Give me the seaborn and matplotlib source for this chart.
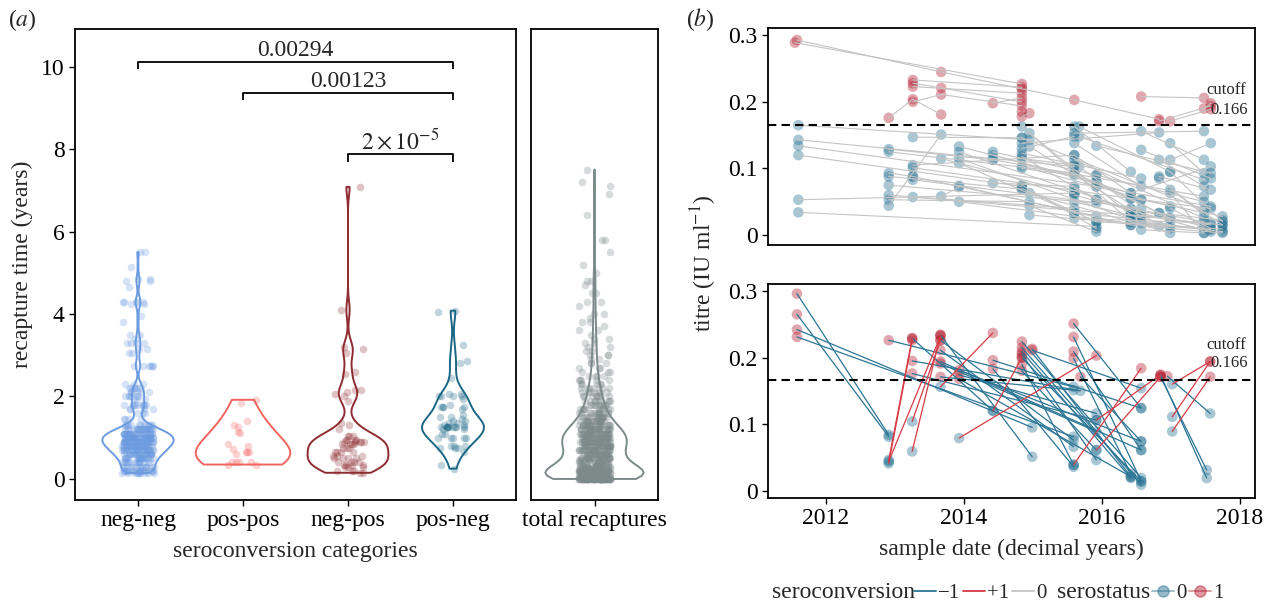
import numpy as np
import pandas as pd
import matplotlib
matplotlib.use("Agg")
import matplotlib.pyplot as plt
from matplotlib.lines import Line2D
import seaborn as sns

# ---------------- panel (a) data: recapture times (years) ----------------
categories = ["neg-neg", "pos-pos", "neg-pos", "pos-neg"]
neg_neg_vals = [5.5, 5.15, 4.85, 4.8, 4.65, 4.3, 4.25, 3.95, 3.8, 3.5, 3.4, 3.3, 3.15, 3.05,
                2.75, 2.3, 2.2, 2.1, 2.0, 1.95, 1.8, 1.7, 1.6, 1.45, 1.3, 1.2, 1.1, 1.0,
                0.9, 0.8, 0.7, 0.6, 0.5, 0.4, 0.3, 0.2, 0.15]
neg_neg_counts = [2, 1, 2, 2, 1, 5, 2, 1, 1, 2, 1, 4, 2, 2,
                  6, 3, 6, 5, 6, 3, 10, 4, 3, 4, 12, 22, 30, 36,
                  34, 30, 26, 22, 18, 15, 14, 16, 10]
pos_pos_vals = [1.92, 1.85, 1.4, 1.32, 1.25, 1.15, 1.12, 0.85, 0.8, 0.72, 0.65, 0.65,
                0.65, 0.6, 0.42, 0.4, 0.4, 0.4, 0.35, 0.35]
neg_pos_vals = [7.08, 4.1, 3.2, 3.15, 3.05, 2.6, 2.55, 2.15, 2.1, 2.05, 2.0, 1.9, 1.35, 1.3,
                1.2, 1.05, 0.95, 0.9, 0.85, 0.75, 0.65, 0.55, 0.5, 0.4, 0.35, 0.3, 0.2, 0.15]
neg_pos_counts = [1, 1, 1, 1, 1, 1, 1, 2, 1, 1, 1, 1, 1, 1,
                  1, 3, 4, 5, 4, 3, 4, 3, 4, 4, 4, 3, 3, 2]
pos_neg_vals = [4.08, 4.05, 3.25, 2.85, 2.8, 2.45, 2.05, 2.0, 1.95, 1.8, 1.75, 1.7, 1.55,
                1.5, 1.45, 1.4, 1.35, 1.3, 1.25, 1.2, 1.1, 1.0, 0.8, 0.75, 0.65, 0.35, 0.25]
pos_neg_counts = [1, 1, 1, 1, 1, 1, 2, 4, 1, 1, 4, 1, 1,
                  2, 1, 2, 2, 2, 10, 2, 2, 5, 3, 3, 1, 1, 1]
total_label = "total recaptures"
total_vals = [0.0, 0.05, 0.1, 0.15, 0.2, 0.25, 0.3, 0.35, 0.4, 0.45, 0.5, 0.6, 0.7, 0.8,
              0.9, 1.0, 1.1, 1.2, 1.3, 1.4, 1.5, 1.6, 1.7, 1.8, 1.9, 2.0, 2.1, 2.2, 2.3,
              2.4, 2.5, 2.6, 2.7, 2.8, 2.9, 3.0, 3.1, 3.2, 3.3, 3.4, 3.5, 3.6, 3.7, 3.8,
              3.9, 4.0, 4.2, 4.3, 4.5, 4.7, 4.8, 5.0, 5.2, 5.5, 5.8, 6.4, 6.9, 7.1, 7.2, 7.5]
total_counts = [70, 42, 35, 31, 28, 24, 20, 16, 14, 13, 22, 28, 30, 33,
                35, 36, 34, 29, 22, 18, 16, 13, 11, 10, 9, 8, 7, 6, 5,
                5, 4, 3, 3, 3, 2, 3, 2, 2, 2, 2, 1, 2, 1, 2,
                1, 2, 1, 2, 2, 1, 2, 1, 1, 1, 2, 1, 1, 1, 1, 1]

bracket_from = [0, 1, 2]
bracket_to = [3, 3, 3]
bracket_y = [10.12, 9.37, 7.88]
bracket_text = ["0.00294", "0.00123", r"$2\times10^{-5}$"]

# ---------------- panel (b) data: titres ----------------
cutoff = 0.166
# top: individuals without seroconversion (dates, titres per individual)
top_dates = [
    [2011.58, 2013.67, 2015.6, 2016.83], [2011.55, 2014.84], [2012.91, 2013.26, 2013.67],
    [2013.26, 2013.67, 2014.84], [2013.26, 2013.67, 2014.84], [2013.26, 2014.84],
    [2013.26, 2014.84], [2014.42, 2014.84], [2014.84, 2014.95], [2016.57, 2017.48],
    [2016.83, 2017.58], [2016.99, 2017.58], [2017.48, 2017.58], [2014.84], [2014.84],
    [2011.6, 2014.95], [2011.6, 2015.6], [2011.6, 2015.92], [2011.6, 2014.84],
    [2011.6, 2015.6], [2011.6, 2015.92], [2012.91, 2014.42], [2012.91, 2015.6],
    [2012.91, 2013.67], [2012.91, 2014.84], [2012.91, 2015.92], [2012.91, 2015.6],
    [2012.91, 2014.95], [2012.91, 2013.26], [2013.26, 2014.84], [2013.26, 2015.6],
    [2013.26, 2016.42], [2013.26, 2015.92], [2013.26, 2016.57], [2013.26, 2016.99],
    [2013.67, 2015.6], [2013.67, 2013.93], [2013.93, 2015.92], [2013.93, 2016.42],
    [2013.93, 2016.57], [2013.93, 2015.6], [2013.93, 2016.99], [2013.93, 2016.42],
    [2014.42, 2015.92], [2014.42, 2016.42], [2014.42, 2017.48], [2014.42, 2015.6],
    [2014.84, 2016.83], [2014.84, 2015.6], [2014.84, 2016.57], [2014.84, 2015.92],
    [2014.84, 2016.99], [2014.84, 2016.42], [2014.84, 2017.48], [2014.84, 2015.92],
    [2015.6, 2017.48], [2014.95, 2016.42], [2014.95, 2016.57], [2014.95, 2016.99],
    [2014.95, 2015.92], [2014.95, 2017.58], [2015.6, 2016.42], [2015.6, 2016.57],
    [2015.6, 2017.48], [2015.6, 2016.83], [2015.6, 2017.58], [2015.6, 2016.42],
    [2015.6, 2016.57], [2015.67, 2016.99], [2015.67, 2017.48], [2015.67, 2016.83],
    [2015.92, 2017.58], [2015.92, 2017.48], [2015.92, 2017.75], [2015.92, 2017.58],
    [2016.42, 2017.58], [2016.42, 2017.75], [2016.57, 2017.48], [2016.57, 2017.58],
    [2016.57, 2017.75], [2016.57, 2017.48], [2016.83, 2017.48], [2016.83, 2017.58],
    [2016.99, 2017.48], [2016.99, 2017.58], [2016.99, 2017.75], [2016.42, 2017.48],
    [2016.99, 2017.48], [2016.83, 2017.75], [2016.42, 2017.58],
    [2015.6, 2016.42], [2015.6, 2016.99], [2015.6, 2017.58], [2015.92, 2016.99],
    [2015.92, 2017.48], [2016.42, 2017.48], [2016.42, 2017.75], [2016.57, 2017.58],
    [2016.57, 2017.75], [2016.83, 2017.48], [2016.99, 2017.58], [2016.99, 2017.75],
    [2014.84, 2015.6], [2014.84, 2015.6], [2014.84, 2015.92]]
top_titres = [
    [0.293, 0.245, 0.203, 0.174], [0.289, 0.227], [0.176, 0.204, 0.181],
    [0.228, 0.221, 0.2], [0.2, 0.211, 0.194], [0.233, 0.222],
    [0.223, 0.213], [0.198, 0.206], [0.178, 0.183], [0.208, 0.206],
    [0.171, 0.194], [0.171, 0.189], [0.19, 0.198], [0.219], [0.185],
    [0.165, 0.143], [0.143, 0.103], [0.134, 0.073], [0.12, 0.073],
    [0.053, 0.063], [0.034, 0.013], [0.129, 0.113], [0.125, 0.093],
    [0.044, 0.151], [0.088, 0.069], [0.075, 0.048], [0.06, 0.04],
    [0.053, 0.05], [0.093, 0.088], [0.147, 0.146], [0.105, 0.12],
    [0.101, 0.055], [0.088, 0.028], [0.083, 0.04], [0.057, 0.025],
    [0.115, 0.063], [0.058, 0.072], [0.133, 0.08], [0.125, 0.038],
    [0.115, 0.018], [0.108, 0.033], [0.05, 0.01], [0.074, 0.015],
    [0.125, 0.09], [0.12, 0.063], [0.113, 0.058], [0.078, 0.073],
    [0.138, 0.154], [0.13, 0.148], [0.123, 0.085], [0.118, 0.053],
    [0.103, 0.043], [0.163, 0.02], [0.146, 0.038], [0.07, 0.02],
    [0.153, 0.156], [0.153, 0.03], [0.133, 0.028], [0.063, 0.003],
    [0.044, 0.005], [0.03, 0.008], [0.163, 0.095], [0.138, 0.073],
    [0.113, 0.025], [0.093, 0.033], [0.025, 0.018], [0.033, 0.025],
    [0.12, 0.053], [0.163, 0.095], [0.148, 0.083], [0.103, 0.013],
    [0.134, 0.093], [0.053, 0.013], [0.02, 0.009], [0.073, 0.043],
    [0.063, 0.103], [0.015, 0.003], [0.156, 0.113], [0.128, 0.085],
    [0.053, 0.028], [0.008, 0.003], [0.113, 0.073], [0.088, 0.068],
    [0.138, 0.093], [0.113, 0.138], [0.068, 0.015], [0.02, 0.01],
    [0.063, 0.003], [0.033, 0.022], [0.055, 0.04],
    [0.07, 0.035], [0.05, 0.015], [0.06, 0.005], [0.08, 0.025],
    [0.09, 0.05], [0.04, 0.02], [0.03, 0.015], [0.03, 0.015],
    [0.02, 0.005], [0.085, 0.03], [0.04, 0.01], [0.095, 0.02],
    [0.115, 0.105], [0.1, 0.09], [0.075, 0.01]]

# bottom: individuals that seroconverted (first and second sample)
bot_d0 = [2011.58, 2011.58, 2011.58, 2011.58, 2012.91, 2013.25, 2013.25, 2013.25, 2013.66,
          2013.66, 2013.66, 2013.66, 2013.66, 2013.93, 2013.93, 2013.93, 2014.42, 2014.42,
          2014.84, 2014.84, 2014.84, 2014.84, 2014.84, 2014.84, 2014.84, 2014.99, 2014.99,
          2015.59, 2015.59, 2015.59, 2015.59, 2015.69, 2016.85, 2016.85, 2016.95, 2013.66,
          2012.91, 2012.91, 2012.91, 2013.25, 2013.25, 2013.66, 2013.93, 2014.42, 2015.59,
          2015.92, 2017.02, 2017.02, 2017.02, 2015.92]
bot_t0 = [0.296, 0.265, 0.242, 0.231, 0.226, 0.229, 0.195, 0.176, 0.234,
          0.211, 0.194, 0.191, 0.171, 0.181, 0.174, 0.168, 0.196, 0.183,
          0.224, 0.215, 0.209, 0.205, 0.2, 0.19, 0.18, 0.211, 0.213,
          0.251, 0.231, 0.209, 0.199, 0.171, 0.171, 0.174, 0.172, 0.226,
          0.046, 0.041, 0.044, 0.104, 0.059, 0.156, 0.079, 0.12, 0.039,
          0.061, 0.111, 0.089, 0.16, 0.106]
bot_d1 = [2012.91, 2012.91, 2014.99, 2015.59, 2015.59, 2014.42, 2015.69, 2015.92, 2014.99,
          2015.59, 2016.57, 2015.92, 2015.59, 2016.57, 2015.92, 2016.42, 2016.57, 2015.59,
          2016.57, 2016.57, 2016.42, 2015.92, 2016.57, 2015.59, 2015.92, 2016.57, 2016.42,
          2016.57, 2016.57, 2016.57, 2016.42, 2016.57, 2017.52, 2017.52, 2017.57, 2015.59,
          2013.25, 2013.25, 2013.66, 2013.66, 2013.66, 2014.42, 2015.92, 2014.84, 2016.57,
          2016.85, 2017.57, 2017.57, 2017.57, 2016.85]
bot_t1 = [0.084, 0.081, 0.095, 0.081, 0.156, 0.12, 0.15, 0.106, 0.051,
          0.066, 0.061, 0.089, 0.151, 0.074, 0.116, 0.021, 0.124, 0.036,
          0.019, 0.009, 0.019, 0.046, 0.014, 0.039, 0.061, 0.154, 0.021,
          0.124, 0.014, 0.061, 0.025, 0.074, 0.031, 0.019, 0.116, 0.076,
          0.229, 0.226, 0.232, 0.226, 0.234, 0.237, 0.203, 0.2, 0.184,
          0.171, 0.194, 0.171, 0.194, 0.174]

# ---------------- styling ----------------
cat_colors = ["#6c9be0", "#f2645f", "#8e2c31", "#1a6786"]
cat_widths = [0.68, 0.9, 0.77, 0.59]
cat_bw_adjust = [1.0, 1.5, 1.0, 1.3]
total_color = "#7d8a8a"
pt_blue, pt_red = "#1b6a8c", "#b2182b"
ln_blue, ln_red, ln_grey = "#2b7595", "#d73a44", "#c4c4c4"

sns.set_theme(style="ticks")
plt.rcParams["font.family"] = ["Liberation Serif", "DejaVu Serif"]
plt.rcParams["mathtext.fontset"] = "stix"
plt.rcParams["axes.unicode_minus"] = True
FS = 17
LFS = 15

W, H = 1272, 604
fig = plt.figure(figsize=(W / 100, H / 100), dpi=100)


def rect(l, t, r, b):
    return [l / W, 1 - b / H, (r - l) / W, (b - t) / H]


ax_a = fig.add_axes(rect(75, 29, 516, 500))
ax_t = fig.add_axes(rect(531, 29, 658, 500), sharey=ax_a)
ax_b1 = fig.add_axes(rect(768, 28, 1255, 245))
ax_b2 = fig.add_axes(rect(768, 284, 1255, 498), sharex=ax_b1)


def nrd0_factor(x):
    x = np.asarray(x, float)
    sd = x.std(ddof=1)
    iqr = np.subtract(*np.percentile(x, [75, 25]))
    lo = min(sd, iqr / 1.34) if iqr > 0 else sd
    return 0.9 * lo * len(x) ** -0.2 / sd


np.random.seed(3)
groups = [np.repeat(neg_neg_vals, neg_neg_counts), np.array(pos_pos_vals),
          np.repeat(neg_pos_vals, neg_pos_counts), np.repeat(pos_neg_vals, pos_neg_counts)]
for cat, vals, col, w, bwa in zip(categories, groups, cat_colors, cat_widths, cat_bw_adjust):
    xs = [cat] * len(vals)
    sns.stripplot(x=xs, y=vals, order=categories, color=col, alpha=0.28, size=5.5,
                  jitter=0.15, linewidth=0, ax=ax_a, zorder=2)
    sns.violinplot(x=xs, y=vals, order=categories, color=col, linecolor=col, fill=False,
                   inner=None, cut=0, width=w, bw_method=nrd0_factor(vals), bw_adjust=bwa,
                   linewidth=1.4, ax=ax_a, zorder=3)

tot = np.repeat(total_vals, total_counts)
sns.stripplot(x=[total_label] * len(tot), y=tot, color=total_color, alpha=0.3, size=5.5,
              jitter=0.15, linewidth=0, ax=ax_t, zorder=2)
sns.violinplot(x=[total_label] * len(tot), y=tot, color=total_color, linecolor=total_color,
               fill=False, inner=None, cut=0, width=0.93, bw_method=nrd0_factor(tot),
               linewidth=1.4, ax=ax_t, zorder=3)

for a, b, y, lab in zip(bracket_from, bracket_to, bracket_y, bracket_text):
    ax_a.plot([a, a, b, b], [y - 0.19, y, y, y - 0.19], color="black", lw=1.3,
              solid_capstyle="butt")
    ax_a.text((a + b) / 2, y + 0.13, lab, ha="center", va="baseline", fontsize=FS)

ax_a.set_xlim(-0.6, 3.6)
ax_a.set_ylim(-0.51, 10.91)
ax_a.set_yticks([0, 2, 4, 6, 8, 10])
ax_t.set_xlim(-0.6, 0.6)
ax_a.set_xlabel("seroconversion categories", fontsize=FS, labelpad=7)
ax_a.set_ylabel("recapture time (years)", fontsize=FS, labelpad=6)
ax_t.set_xlabel("")
ax_t.set_ylabel("")

# ---------------- panel (b) ----------------
rows = []
for i, (ds, ts) in enumerate(zip(top_dates, top_titres)):
    for d, t in zip(ds, ts):
        rows.append(("t%d" % i, d, t))
top_df = pd.DataFrame(rows, columns=["id", "date", "titre"])
top_df["status"] = (top_df["titre"] >= cutoff).astype(int)

rows = []
for i, (d0, t0, d1, t1) in enumerate(zip(bot_d0, bot_t0, bot_d1, bot_t1)):
    conv = int(t1 >= cutoff) - int(t0 >= cutoff)
    rows.append(("b%d" % i, d0, t0, conv))
    rows.append(("b%d" % i, d1, t1, conv))
bot_df = pd.DataFrame(rows, columns=["id", "date", "titre", "conv"])
bot_df["status"] = (bot_df["titre"] >= cutoff).astype(int)

pal_status = {0: pt_blue, 1: pt_red}
sns.scatterplot(data=top_df, x="date", y="titre", hue="status", palette=pal_status,
                s=58, alpha=0.38, linewidth=0, legend=False, ax=ax_b1, zorder=2)
sns.lineplot(data=top_df, x="date", y="titre", units="id", estimator=None,
             color=ln_grey, lw=0.8, legend=False, ax=ax_b1, zorder=3)
sns.scatterplot(data=bot_df, x="date", y="titre", hue="status", palette=pal_status,
                s=58, alpha=0.38, linewidth=0, legend=False, ax=ax_b2, zorder=2)
sns.lineplot(data=bot_df, x="date", y="titre", units="id", estimator=None, hue="conv",
             palette={-1: ln_blue, 1: ln_red}, lw=0.9, legend=False, ax=ax_b2, zorder=3)

for ax, ylo, yhi, cy, vy in [(ax_b1, -0.015, 0.311, 0.218, 0.188),
                             (ax_b2, -0.011, 0.3105, 0.219, 0.192)]:
    ax.axhline(cutoff, color="black", lw=1.5, ls=(0, (4, 2.5)), zorder=4)
    ax.set_ylim(ylo, yhi)
    ax.set_yticks([0, 0.1, 0.2, 0.3])
    ax.set_yticklabels(["0", "0.1", "0.2", "0.3"])
    ax.text(2018.09, cy, "cutoff", ha="right", va="center", fontsize=12)
    ax.text(2018.12, vy, "0.166", ha="right", va="center", fontsize=12)
    ax.set_ylabel("")

ax_b1.set_xlim(2011.16, 2018.22)
ax_b2.set_xticks([2012, 2014, 2016, 2018])
ax_b1.set_xlabel("")
ax_b2.set_xlabel("sample date (decimal years)", fontsize=FS, labelpad=7)

for ax in [ax_a, ax_t, ax_b1, ax_b2]:
    for s in ax.spines.values():
        s.set_visible(True)
        s.set_color("black")
        s.set_linewidth(1.3)
    ax.tick_params(direction="out", length=4.5, width=1.0, color="black",
                   labelsize=FS, pad=3, labelcolor="black")
ax_t.tick_params(left=False, labelleft=False)
ax_b1.tick_params(axis="x", bottom=False, labelbottom=False)

fig.text(704 / W, 1 - 263 / H, r"titre (IU ml$^{-1}$)", rotation=90, ha="center",
         va="center", fontsize=FS)
fig.text(8 / W, 1 - 20 / H, r"($a$)", ha="left", va="center", fontsize=FS)
fig.text(686 / W, 1 - 20 / H, r"($b$)", ha="left", va="center", fontsize=FS)

# ---------------- legend ----------------
ly = 1 - 593 / H
fig.text(772 / W, ly, "seroconversion", ha="left", va="center", fontsize=FS)
h1 = [Line2D([], [], color=ln_blue, lw=1.3), Line2D([], [], color=ln_red, lw=1.3),
      Line2D([], [], color=ln_grey, lw=1.3)]
fig.legend(handles=h1, labels=["\u22121", "+1", "0"], loc="center left",
           bbox_to_anchor=(914 / W, ly), ncol=3, frameon=False, fontsize=LFS,
           handlelength=1.05, handletextpad=0.1, columnspacing=0.15, borderpad=0,
           borderaxespad=0)
fig.text(1057 / W, ly, "serostatus", ha="left", va="center", fontsize=FS)
h2 = [Line2D([], [], color=pt_blue, lw=1.3, marker="o", ms=8, alpha=0.45),
      Line2D([], [], color=pt_red, lw=1.3, marker="o", ms=8, alpha=0.45)]
fig.legend(handles=h2, labels=["0", "1"], loc="center left", bbox_to_anchor=(1152 / W, ly),
           ncol=2, frameon=False, fontsize=LFS, handlelength=1.05, handletextpad=0.1,
           columnspacing=0.15, borderpad=0, borderaxespad=0)

fig.savefig("out.png", dpi=100)
